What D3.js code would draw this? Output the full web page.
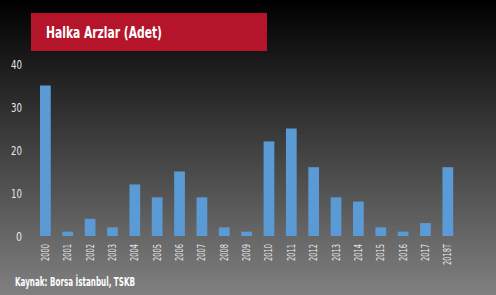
<!DOCTYPE html>
<html><head><meta charset="utf-8">
<script src="https://cdn.jsdelivr.net/npm/d3@7/dist/d3.min.js"></script>
<style>
html,body{margin:0;padding:0;background:#000;}
svg{display:block;}
text{font-stretch:condensed;}
</style></head>
<body>
<script>
const categories = ["2000","2001","2002","2003","2004","2005","2006","2007","2008","2009","2010","2011","2012","2013","2014","2015","2016","2017","2018T"];
const values = [35,1,4,2,12,9,15,9,2,1,22,25,16,9,8,2,1,3,16];
const yTicks = [0,10,20,30,40];
const titleText = "Halka Arzlar (Adet)";
const sourceText = "Kaynak: Borsa İstanbul, TSKB";

const W = 496, H = 295;
const font = "'DejaVu Sans Condensed','Liberation Sans Narrow',sans-serif";
const svg = d3.select("body").append("svg").attr("width", W).attr("height", H);

const defs = svg.append("defs");
const grad = defs.append("linearGradient").attr("id","bg").attr("x1",0).attr("y1",0).attr("x2",0).attr("y2",1);
grad.append("stop").attr("offset","0%").attr("stop-color","#000000");
grad.append("stop").attr("offset","100%").attr("stop-color","#808080");
svg.append("rect").attr("width",W).attr("height",H).attr("fill","url(#bg)");

// Title box
svg.append("rect").attr("x",31).attr("y",13).attr("width",236).attr("height",38).attr("fill","#B5152B");
svg.append("text").attr("x",46).attr("y",37.5).attr("fill","#fff")
  .attr("font-family",font).attr("font-weight","bold").attr("font-size",16)
  .attr("textLength",116).attr("lengthAdjust","spacingAndGlyphs").text(titleText);

const x = d3.scaleBand().domain(categories).range([34.2, 459]).paddingInner(0.52).paddingOuter(0.26);
const y = d3.scaleLinear().domain([0,40]).range([236,64]);

svg.append("g").selectAll("rect").data(values).join("rect")
  .attr("x",(d,i)=>x(categories[i]))
  .attr("width",x.bandwidth())
  .attr("y",d=>y(d))
  .attr("height",d=>y(0)-y(d))
  .attr("fill","#5B9BD5");

// Y axis
const yAxis = svg.append("g").attr("transform","translate(22,0)")
  .call(d3.axisLeft(y).tickValues(yTicks).tickSize(0).tickPadding(0));
yAxis.select(".domain").remove();
yAxis.selectAll("text").attr("fill","#e8e8e8").attr("font-family",font).attr("font-size",13)
  .attr("textLength",d=>d>=10?11:6).attr("lengthAdjust","spacingAndGlyphs");

// X axis
const xAxis = svg.append("g").attr("transform","translate(0,244)")
  .call(d3.axisBottom(x).tickSize(0).tickPadding(0));
xAxis.select(".domain").remove();
xAxis.selectAll("text")
  .attr("fill","#e8e8e8").attr("font-family",font).attr("font-size",10)
  .attr("text-anchor","end").attr("dy","0.35em").attr("dx",0)
  .attr("transform","rotate(-90)").attr("x",0).attr("y",0)
  .attr("textLength",d=>d.length>4?21:17).attr("lengthAdjust","spacingAndGlyphs");

// Source
svg.append("text").attr("x",15).attr("y",286).attr("fill","#fff")
  .attr("font-family",font).attr("font-weight","bold").attr("font-size",12)
  .attr("textLength",120).attr("lengthAdjust","spacingAndGlyphs").text(sourceText);
</script>
</body></html>
